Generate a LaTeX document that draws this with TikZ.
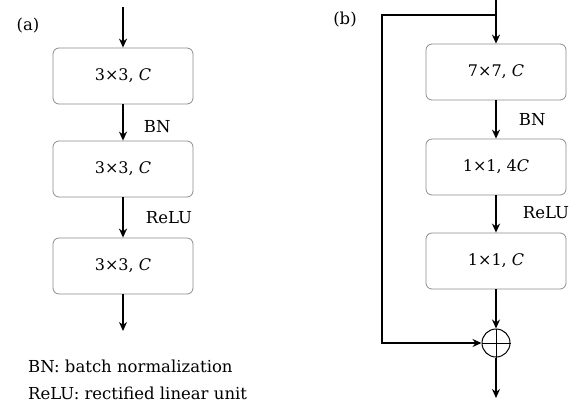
\documentclass[tikz,border=0pt]{standalone}
\usepackage{fontspec}
\setmainfont{DejaVu Serif}
\usetikzlibrary{arrows.meta}
\begin{document}
\begin{tikzpicture}[x=1pt,y=-1pt,
  blk/.style={draw=black!45, line width=0.8pt, rounded corners=6pt,
    minimum width=140pt, minimum height=56pt, inner sep=0pt, font=\fontsize{16}{18}\selectfont},
  flow/.style={line width=1.8pt, -{Stealth[length=9pt,width=8pt]}},
  skip/.style={line width=2.6pt},
  lbl/.style={font=\fontsize{16.5}{18}\selectfont, inner sep=0pt},
  sumnode/.style={circle, draw, line width=1pt, minimum size=28pt, inner sep=0pt}]
\useasboundingbox (0,0) rectangle (585,405);

% ---- panel (a): plain stack of convolutions ----
\node[lbl] (la) at (28,26) {(a)};
\coordinate (ain) at (123,7);
\node[blk] (a1) at (123,76) {3×3, \textit{C}};
\node[blk] (a2) at (123,169) {3×3, \textit{C}};
\node[blk] (a3) at (123,266) {3×3, \textit{C}};
\coordinate (aout) at (123,331);
\draw[flow] (ain) -- (a1.north);
\draw[flow] (a1.south) -- (a2.north) node[lbl, pos=0.6, anchor=west, xshift=20pt] {BN};
\draw[flow] (a2.south) -- (a3.north) node[lbl, pos=0.5, anchor=west, xshift=22pt] {ReLU};
\draw[flow] (a3.south) -- (aout);

\node[lbl, anchor=west] (n1) at (28,366) {BN: batch normalization};
\node[lbl, anchor=west] (n2) at (28,393) {ReLU: rectified linear unit};

% ---- panel (b): residual block ----
\node[lbl] (lb) at (345,20) {(b)};
\coordinate (bin) at (496,0);
\coordinate (bsplit) at (496,15);
\node[blk] (b1) at (496,72) {7×7, \textit{C}};
\node[blk] (b2) at (496,167) {1×1, 4\textit{C}};
\node[blk] (b3) at (496,261) {1×1, \textit{C}};
\node[sumnode] (sum) at (496,343) {};
\draw[line width=1pt] (sum.north) -- (sum.south) (sum.west) -- (sum.east);
\coordinate (bout) at (496,398);

\draw[flow] (bin) -- (b1.north);
\draw[flow] (b1.south) -- (b2.north) node[lbl, pos=0.5, anchor=west, xshift=22pt] {BN};
\draw[flow] (b2.south) -- (b3.north) node[lbl, pos=0.45, anchor=west, xshift=26pt] {ReLU};
\draw[flow] (b3.south) -- (sum.north);
\draw[flow] (sum.south) -- (bout);

% shortcut connection
\coordinate (sk1) at (382,15);
\coordinate (sk2) at (382,343);
\draw[skip, line join=miter] (bsplit) -- (sk1) -- (sk2) -- ([xshift=-6pt]sum.west);
\draw[flow] ([xshift=-8pt]sum.west) -- (sum.west);
\end{tikzpicture}
\end{document}
